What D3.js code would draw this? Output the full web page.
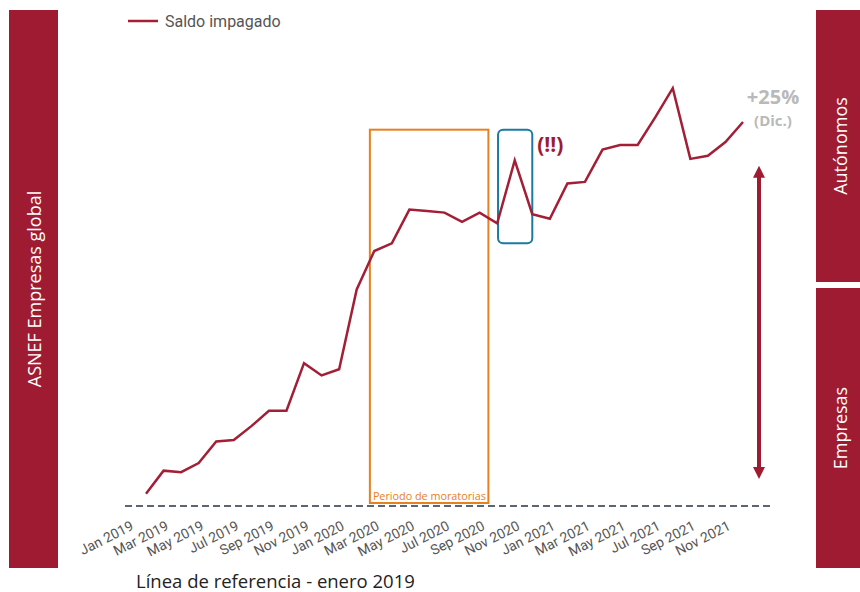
<!DOCTYPE html>
<html>
<head>
<meta charset="utf-8">
<script src="https://cdn.jsdelivr.net/npm/d3@7"></script>
<style>
  body { margin: 0; background: #fff; }
  svg { display: block; }
</style>
</head>
<body>
<div id="chart"></div>
<script>
// months shown, Jan 2019 .. Nov 2021
const months = [
  'Jan 2019', 'Feb 2019', 'Mar 2019', 'Apr 2019', 'May 2019', 'Jun 2019',
  'Jul 2019', 'Aug 2019', 'Sep 2019', 'Oct 2019', 'Nov 2019', 'Dec 2019',
  'Jan 2020', 'Feb 2020', 'Mar 2020', 'Apr 2020', 'May 2020', 'Jun 2020',
  'Jul 2020', 'Aug 2020', 'Sep 2020', 'Oct 2020', 'Nov 2020', 'Dec 2020',
  'Jan 2021', 'Feb 2021', 'Mar 2021', 'Apr 2021', 'May 2021', 'Jun 2021',
  'Jul 2021', 'Aug 2021', 'Sep 2021', 'Oct 2021', 'Nov 2021'
];
// unpaid balance, index (reference line = 100)
const saldo = [
  100.8, 102.3, 102.2, 102.8, 104.2, 104.3, 105.2, 106.2, 106.2, 109.3, 108.5, 108.9,
  114.1, 116.6, 117.1, 119.3, 119.2, 119.1, 118.5, 119.1, 118.4, 122.5, 119.0, 118.7,
  121.0, 121.1, 123.2, 123.5, 123.5, 125.3, 127.2, 122.6, 122.8, 123.7, 125.0
];
const referenceValue = 100;
// annotation ranges, in month index / index units
const moratoria = { from: 12.75, to: 19.5, top: 124.5, label: 'Periodo de moratorias' };
const spike = { from: 20.05, to: 22.0, top: 124.5, bottom: 117.1, label: '(!!)' };
const arrowRange = [101.6, 122.3];
const sideLabels = ['ASNEF Empresas global', 'Autónomos', 'Empresas'];

const width = 860;
const height = 592;
const red = '#9e1b32';

const svg = d3.select('#chart').append('svg')
  .attr('width', width)
  .attr('height', height);

const x = d3.scaleLinear().domain([0, months.length - 1]).range([146, 743]);
const y = d3.scaleLinear().domain([100, 125]).range([506, 122]);

// side panels
svg.append('rect').attr('x', 9).attr('y', 10).attr('width', 49).attr('height', 558).attr('fill', red);
svg.append('rect').attr('x', 816).attr('y', 10).attr('width', 44).attr('height', 272).attr('fill', red);
svg.append('rect').attr('x', 816).attr('y', 288).attr('width', 44).attr('height', 280).attr('fill', red);

const sideText = [[34, 289, sideLabels[0]], [840, 146, sideLabels[1]], [840, 428, sideLabels[2]]];
svg.selectAll('text.side')
  .data(sideText)
  .enter()
  .append('text')
  .attr('class', 'side')
  .attr('transform', (d) => 'translate(' + d[0] + ',' + d[1] + ') rotate(-90)')
  .attr('text-anchor', 'middle')
  .attr('dominant-baseline', 'central')
  .attr('fill', '#fff')
  .style('font-family', 'Open Sans')
  .style('font-size', '18px')
  .text((d) => d[2]);

// moratoria box
svg.append('rect')
  .attr('x', x(moratoria.from))
  .attr('y', y(moratoria.top))
  .attr('width', x(moratoria.to) - x(moratoria.from))
  .attr('height', y(referenceValue) - 3 - y(moratoria.top))
  .attr('fill', 'none')
  .attr('stroke', '#e8801f')
  .attr('stroke-width', 2);

svg.append('text')
  .attr('x', x(moratoria.from) + 3)
  .attr('y', y(referenceValue) - 6)
  .attr('fill', '#e8801f')
  .style('font-family', 'Open Sans')
  .style('font-size', '10.8px')
  .text(moratoria.label);

// reference line
svg.append('line')
  .attr('x1', 125)
  .attr('x2', 773)
  .attr('y1', y(referenceValue))
  .attr('y2', y(referenceValue))
  .attr('stroke', '#5b6670')
  .attr('stroke-width', 2)
  .attr('stroke-dasharray', '7,4');

// x axis
const xAxis = d3.axisBottom(x)
  .tickValues(d3.range(0, months.length, 2))
  .tickFormat((i) => months[i])
  .tickSize(0);

const axisG = svg.append('g')
  .attr('transform', 'translate(0,' + y(referenceValue) + ')')
  .call(xAxis);
axisG.select('.domain').remove();
axisG.selectAll('text')
  .attr('x', 0)
  .attr('y', 0)
  .attr('dy', null)
  .attr('text-anchor', 'end')
  .attr('transform', 'translate(-12,23) rotate(-27)')
  .attr('fill', '#555')
  .style('font-family', 'Roboto')
  .style('font-size', '14px');

// spike box
svg.append('rect')
  .attr('x', x(spike.from))
  .attr('y', y(spike.top))
  .attr('width', x(spike.to) - x(spike.from))
  .attr('height', y(spike.bottom) - y(spike.top))
  .attr('rx', 5)
  .attr('fill', 'none')
  .attr('stroke', '#1a7aa0')
  .attr('stroke-width', 2);

// main line
const line = d3.line()
  .x((d, i) => x(i))
  .y((d) => y(d));

svg.append('path')
  .datum(saldo)
  .attr('d', line)
  .attr('fill', 'none')
  .attr('stroke', '#a21f36')
  .attr('stroke-width', 2.5)
  .attr('stroke-linejoin', 'miter');

svg.append('text')
  .attr('x', x(spike.to) + 18)
  .attr('y', y(spike.top) + 22)
  .attr('text-anchor', 'middle')
  .attr('fill', red)
  .style('font-family', 'Open Sans')
  .style('font-weight', 'bold')
  .style('font-size', '21px')
  .text(spike.label);

// +25% note
const last = months.length - 1;
svg.append('text')
  .attr('x', x(last) + 30)
  .attr('y', y(saldo[last]) - 18)
  .attr('text-anchor', 'middle')
  .attr('fill', '#b9b9b9')
  .style('font-family', 'Open Sans')
  .style('font-weight', 'bold')
  .style('font-size', '20px')
  .text('+25%');
svg.append('text')
  .attr('x', x(last) + 30)
  .attr('y', y(saldo[last]) + 4)
  .attr('text-anchor', 'middle')
  .attr('fill', '#b9b9b9')
  .style('font-family', 'Open Sans')
  .style('font-weight', 'bold')
  .style('font-size', '15px')
  .text('(Dic.)');

// double arrow
const defs = svg.append('defs');
defs.append('marker')
  .attr('id', 'head')
  .attr('viewBox', '0 0 10 10')
  .attr('refX', 2)
  .attr('refY', 5)
  .attr('markerWidth', 3.5)
  .attr('markerHeight', 3)
  .attr('orient', 'auto-start-reverse')
  .append('path')
  .attr('d', 'M0,0 L10,5 L0,10 Z')
  .attr('fill', red);

svg.append('line')
  .attr('x1', 759)
  .attr('x2', 759)
  .attr('y1', y(arrowRange[0]) - 12)
  .attr('y2', y(arrowRange[1]) + 12)
  .attr('stroke', red)
  .attr('stroke-width', 4)
  .attr('marker-start', 'url(#head)')
  .attr('marker-end', 'url(#head)');

// legend
svg.append('line')
  .attr('x1', 128).attr('x2', 158)
  .attr('y1', 21).attr('y2', 21)
  .attr('stroke', '#a21f36')
  .attr('stroke-width', 2.5);
svg.append('text')
  .attr('x', 165)
  .attr('y', 21)
  .attr('dominant-baseline', 'central')
  .attr('fill', '#555')
  .style('font-family', 'Roboto')
  .style('font-size', '16px')
  .text('Saldo impagado');

// footer
svg.append('text')
  .attr('x', 136)
  .attr('y', 588)
  .attr('fill', '#222')
  .style('font-family', 'Open Sans')
  .style('font-size', '18.5px')
  .text('Línea de referencia - enero 2019');
</script>
</body>
</html>
